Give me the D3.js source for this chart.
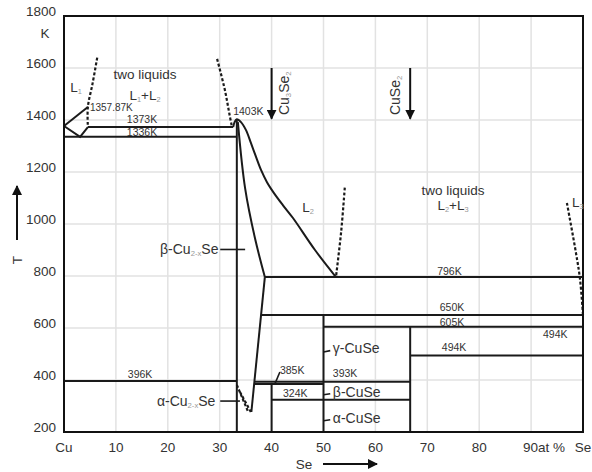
<!DOCTYPE html>
<html>
<head>
<meta charset="utf-8">
<script src="https://cdn.jsdelivr.net/npm/d3@7"></script>
<style>
  body { margin: 0; background: #fff; }
  svg { font-family: "Liberation Sans", Arial, sans-serif; }
</style>
</head>
<body>
<svg id="chart" width="592" height="472"></svg>
<script>
// Cu-Se phase diagram, composition in at% Se, temperature in K

var xTicks = [0, 10, 20, 30, 40, 50, 60, 70, 80, 90, 100]
var xTickLabels = ['Cu', '10', '20', '30', '40', '50', '60', '70', '80', '90at %', 'Se']
var yTicks = [200, 400, 600, 800, 1000, 1200, 1400, 1600, 1800]

// horizontal invariant lines: [T, from at%, to at%]
var isotherms = [
  [1373, 4.6, 32.6],
  [1336, 0, 33.3],
  [396, 0, 33.3],
  [796, 38.7, 100],
  [650, 38.0, 100],
  [605, 50, 100],
  [494, 66.7, 100],
  [393, 36.7, 66.7],
  [385, 36.7, 50],
  [324, 40, 66.7]
]

// vertical lines (compounds): [at%, from T, to T]
var verticals = [
  [33.3, 200, 1402],
  [40, 200, 385],
  [50, 200, 650],
  [66.7, 200, 605]
]

// solid boundaries [at%, T]
var cuLiquidus = [[0, 1377], [4.6, 1450]]
var cuSolidus = [[0, 1377], [3.1, 1335], [4.6, 1373]]
var l2Liquidus = [[32.6, 1373], [32.9, 1393], [33.3, 1403], [34.1, 1392], [35.07, 1361],
  [36.03, 1311], [37.0, 1258], [37.96, 1208], [39.11, 1161], [40.46, 1119], [42.2, 1072],
  [44.12, 1023], [48.36, 900], [52.4, 796]]
var betaUpper = [[33.5, 1392], [34.9, 1137], [36.8, 945], [38.7, 796]]
var betaLower = [[38.7, 796], [36.1, 277]]

// dashed (uncertain) boundaries
var l1Dash = [[6.4, 1640], [5.5, 1540], [4.6, 1450], [4.6, 1373]]
var dash30 = [[29.5, 1635], [31.0, 1515], [31.9, 1420], [32.3, 1380]]
var l2Dash = [[54.1, 1140], [53.4, 970], [52.4, 796]]
var l3Dash = [[96.9, 1081], [98.65, 888], [99.4, 792], [100, 650]]
var vDash1 = [[33.3, 381], [35.5, 277]]
var vDash2 = [[33.9, 354], [36.0, 277]]

// composition arrows
var compounds = [['Cu_{3}Se_{2}', 40], ['CuSe_{2}', 66.7]]

var svg = d3.select('#chart')
var mLeft = 64, mRight = 583, mTop = 16, mBottom = 432
var x = d3.scaleLinear().domain([0, 100]).range([mLeft, mRight])
var y = d3.scaleLinear().domain([200, 1800]).range([mBottom, mTop])

var defs = svg.append('defs')
defs.append('marker')
  .attr('id', 'arrow')
  .attr('viewBox', '0 0 10 10')
  .attr('refX', 9).attr('refY', 5)
  .attr('markerWidth', 5).attr('markerHeight', 5)
  .attr('markerUnits', 'strokeWidth')
  .attr('orient', 'auto')
  .append('path').attr('d', 'M0,0 L10,5 L0,10 z').attr('fill', '#111')

// grid
var g = svg.append('g')
g.selectAll('.vg').data(xTicks.slice(1, -1)).enter().append('line')
  .attr('x1', d => x(d)).attr('x2', d => x(d))
  .attr('y1', mTop).attr('y2', mBottom)
  .attr('stroke', '#e2e2e2').attr('stroke-width', 1.5)
g.selectAll('.hg').data(yTicks.slice(1, -1)).enter().append('line')
  .attr('x1', mLeft).attr('x2', mRight)
  .attr('y1', d => y(d)).attr('y2', d => y(d))
  .attr('stroke', '#e2e2e2').attr('stroke-width', 1.5)

// tick labels
svg.selectAll('.yl').data(yTicks).enter().append('text')
  .attr('x', 56).attr('y', d => y(d))
  .attr('text-anchor', 'end')
  .attr('font-size', 13.5).attr('fill', '#333')
  .text(d => d)
svg.selectAll('.xl').data(xTicks).enter().append('text')
  .attr('x', (d, i) => i === 9 ? x(d) - 8 : x(d))
  .attr('y', 452)
  .attr('text-anchor', (d, i) => i === 9 ? 'start' : 'middle')
  .attr('font-size', 13.5).attr('fill', '#333')
  .text((d, i) => xTickLabels[i])

// axis titles
svg.append('text').attr('x', 45).attr('y', 38).attr('text-anchor', 'middle')
  .attr('font-size', 13.5).attr('fill', '#333').text('K')
svg.append('text').attr('x', 304).attr('y', 469).attr('text-anchor', 'middle')
  .attr('font-size', 13.5).attr('fill', '#333').text('Se')
svg.append('line').attr('x1', 323).attr('x2', 377).attr('y1', 464).attr('y2', 464)
  .attr('stroke', '#111').attr('stroke-width', 2).attr('marker-end', 'url(#arrow)')
svg.append('text').attr('transform', 'translate(22,260) rotate(-90)')
  .attr('text-anchor', 'middle').attr('font-size', 13.5).attr('fill', '#333').text('T')
svg.append('line').attr('x1', 17).attr('x2', 17).attr('y1', 240).attr('y2', 186)
  .attr('stroke', '#111').attr('stroke-width', 2).attr('marker-end', 'url(#arrow)')

// phase lines
var lines = svg.append('g').attr('fill', 'none').attr('stroke', '#1a1a1a').attr('stroke-width', 2)
lines.selectAll('.iso').data(isotherms).enter().append('line')
  .attr('x1', d => x(d[1])).attr('x2', d => x(d[2]))
  .attr('y1', d => y(d[0])).attr('y2', d => y(d[0]))
lines.selectAll('.vert').data(verticals).enter().append('line')
  .attr('x1', d => x(d[0])).attr('x2', d => x(d[0]))
  .attr('y1', d => y(d[1])).attr('y2', d => y(d[2]))

var straight = d3.line().x(d => x(d[0])).y(d => y(d[1]))
var smooth = d3.line().x(d => x(d[0])).y(d => y(d[1])).curve(d3.curveCatmullRom)

lines.append('path').attr('d', straight(cuLiquidus))
lines.append('path').attr('d', straight(cuSolidus))
lines.append('path').attr('d', smooth(l2Liquidus))
lines.append('path').attr('d', smooth(betaUpper))
lines.append('path').attr('d', straight(betaLower))

var dashed = svg.append('g').attr('fill', 'none').attr('stroke', '#1a1a1a')
  .attr('stroke-width', 2.2).attr('stroke-dasharray', '3,2')
dashed.append('path').attr('d', smooth(l1Dash))
dashed.append('path').attr('d', smooth(dash30))
dashed.append('path').attr('d', smooth(l2Dash))
dashed.append('path').attr('d', smooth(l3Dash))
dashed.append('path').attr('d', straight(vDash1))
dashed.append('path').attr('d', straight(vDash2))

// frame
svg.append('rect').attr('x', mLeft).attr('y', mTop)
  .attr('width', mRight - mLeft).attr('height', mBottom - mTop)
  .attr('fill', 'none').attr('stroke', '#111').attr('stroke-width', 2)

// text with _{sub} parts
function rich (sel, str, size) {
  var parts = str.split(/(_\{[^}]*\})/)
  parts.forEach(function (p) {
    if (!p) return
    if (p[0] === '_') {
      sel.append('tspan').attr('font-size', size * 0.55).attr('fill', '#999')
        .attr('baseline-shift', '-25%').text(p.slice(2, -1))
    } else {
      sel.append('tspan').text(p)
    }
  })
  return sel
}

function label (str, ax, at, size, anchor) {
  var t = svg.append('text').attr('x', x(ax)).attr('y', y(at))
    .attr('font-size', size).attr('fill', '#333')
    .attr('text-anchor', anchor || 'start')
  return rich(t, str, size)
}

label('L_{1}', 1.2, 1508, 13.5)
label('two liquids', 15.6, 1558, 13.5, 'middle')
label('L_{1}+L_{2}', 15.6, 1477, 13.5, 'middle')
label('1357.87K', 5.0, 1436, 10)
label('1373K', 12.1, 1390, 10.5)
label('1336K', 12.1, 1339, 10.5)
label('1403K', 32.6, 1419, 10.5)
label('L_{2}', 45.9, 1046, 13.5)
label('two liquids', 74.95, 1112, 13.5, 'middle')
label('L_{2}+L_{3}', 74.95, 1052, 13.5, 'middle')
label('L_{3}', 97.9, 1065, 13.5)
label('β-Cu_{2-x}Se', 18.5, 885, 14)
label('α-Cu_{2-x}Se', 17.9, 300, 14)
label('γ-CuSe', 51.8, 504, 14)
label('β-CuSe', 51.8, 335, 14)
label('α-CuSe', 51.8, 235, 14)
label('393K', 51.8, 413, 10.5)
label('385K', 41.6, 425, 10.5)
label('324K', 42.2, 333, 10.5)
label('396K', 12.3, 406, 10.5)
label('796K', 71.9, 802, 10.5)
label('650K', 72.4, 667, 10.5)
label('605K', 72.4, 606, 10.5)
label('494K', 92.3, 560, 10.5)
label('494K', 72.8, 510, 10.5)

// leaders
var leaders = [
  [[30.1, 902], [34.9, 902]],
  [[30.1, 319], [33.9, 319]],
  [[50, 508], [51.3, 513]],
  [[50, 343], [51.3, 347]],
  [[50, 243], [51.3, 247]],
  [[41.6, 431], [40.65, 386]]
]
svg.append('g').selectAll('path').data(leaders).enter().append('path')
  .attr('d', d => straight(d)).attr('fill', 'none')
  .attr('stroke', '#1a1a1a').attr('stroke-width', 1.6)

// compound arrows
compounds.forEach(function (c) {
  svg.append('line').attr('x1', x(c[1])).attr('x2', x(c[1]))
    .attr('y1', y(1600)).attr('y2', y(1405))
    .attr('stroke', '#111').attr('stroke-width', 2).attr('marker-end', 'url(#arrow)')
  var t = svg.append('text')
    .attr('transform', 'translate(' + (x(c[1]) + (c[1] < 50 ? 17.5 : -10.5)) + ',' + y(1419) + ') rotate(-90)')
    .attr('font-size', 14).attr('fill', '#333')
  rich(t, c[0], 14)
})
</script>
</body>
</html>
